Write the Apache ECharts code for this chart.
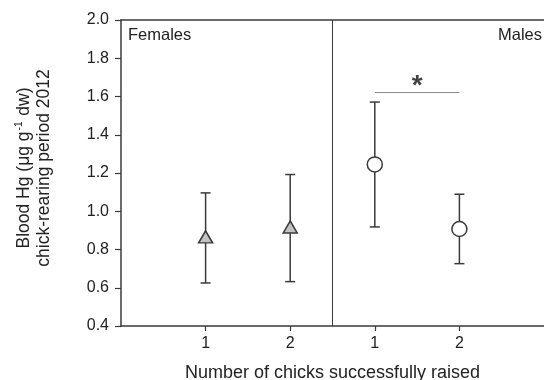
<!DOCTYPE html>
<html>
<head>
<meta charset="utf-8">
<script src="https://cdn.jsdelivr.net/npm/echarts@6/dist/echarts.min.js"></script>
<style>html,body{margin:0;padding:0;background:#fff}#c{width:544px;height:380px}</style>
</head>
<body>
<div id="c"></div>
<script>
// Data
var xPositions = [1, 2, 3, 4];
var tickLabels = ['1', '2', '1', '2'];
var groups = ['Females', 'Males'];
var femaleX = [1, 2];
var femaleMean = [0.866, 0.918];
var femaleLow = [0.625, 0.632];
var femaleHigh = [1.096, 1.192];
var maleX = [3, 4];
var maleMean = [1.245, 0.907];
var maleLow = [0.918, 0.726];
var maleHigh = [1.571, 1.089];
var dividerX = 2.5;
var sigFrom = 3, sigTo = 4, sigY = 1.62, sigLabel = '*';

var FONT = '"Liberation Sans", Arial, sans-serif';
var DARK = '#3a3a3a';

function errData(xs, lo, hi) {
  return xs.map(function (x, i) { return [x, lo[i], hi[i]]; });
}
function ptData(xs, m) {
  return xs.map(function (x, i) { return [x, m[i]]; });
}
function renderErr(params, api) {
  var x = api.value(0);
  var lo = api.coord([x, api.value(1)]);
  var hi = api.coord([x, api.value(2)]);
  var cap = 5;
  var st = { stroke: DARK, lineWidth: 1.5 };
  return {
    type: 'group',
    children: [
      { type: 'line', shape: { x1: lo[0], y1: lo[1], x2: hi[0], y2: hi[1] }, style: st },
      { type: 'line', shape: { x1: lo[0] - cap, y1: lo[1], x2: lo[0] + cap, y2: lo[1] }, style: st },
      { type: 'line', shape: { x1: hi[0] - cap, y1: hi[1], x2: hi[0] + cap, y2: hi[1] }, style: st }
    ]
  };
}

var chart = echarts.init(document.getElementById('c'));
chart.setOption({
  animation: false,
  grid: { left: 121, right: 0, top: 20, bottom: 54, containLabel: false, outerBoundsMode: 'none' },
  xAxis: [{
    type: 'value', min: 0, max: 5, interval: 1,
    axisLine: { show: true, lineStyle: { color: DARK, width: 1.5 } },
    axisTick: { show: true, customValues: xPositions, length: 5, lineStyle: { color: DARK, width: 1.2 } },
    axisLabel: {
      customValues: xPositions, margin: 10,
      formatter: function (v) { var i = xPositions.indexOf(v); return i >= 0 ? tickLabels[i] : ''; },
      color: '#222', fontSize: 16, fontFamily: FONT
    },
    splitLine: { show: false },
    name: 'Number of chicks successfully raised', nameLocation: 'middle', nameGap: 38,
    nameTextStyle: { color: '#222', fontSize: 18, fontFamily: FONT }
  }, {
    type: 'value', position: 'top', min: 0, max: 5,
    axisLine: { show: true, lineStyle: { color: DARK, width: 1.5 } },
    axisTick: { show: false }, axisLabel: { show: false }, splitLine: { show: false }
  }],
  yAxis: {
    type: 'value', min: 0.4, max: 2.0, interval: 0.2,
    axisLine: { show: true, lineStyle: { color: DARK, width: 1.5 } },
    axisTick: { show: true, length: 6, lineStyle: { color: DARK, width: 1.2 } },
    axisLabel: {
      margin: 12, color: '#222', fontSize: 16, fontFamily: FONT,
      formatter: function (v) { return v.toFixed(1); }
    },
    splitLine: { show: false }
  },
  graphic: [
    {
      type: 'text', x: 34, y: 168, rotation: Math.PI / 2,
      style: {
        text: '{a|Blood Hg (μg g}{s|-1}{a| dw)}\n{a|chick-rearing period 2012}',
        fill: '#222', fontFamily: FONT, align: 'center', verticalAlign: 'middle',
        rich: {
          a: { fontSize: 17.5, fontFamily: FONT, fill: '#222', lineHeight: 20 },
          s: { fontSize: 10, fontFamily: FONT, fill: '#222', lineHeight: 20, padding: [0, 1, 9, 1] }
        }
      }
    },
    { type: 'text', x: 128, y: 35, style: { text: groups[0], fontSize: 16.5, fontFamily: FONT, fill: '#222', align: 'left', verticalAlign: 'middle' } },
    { type: 'text', x: 542, y: 35, style: { text: groups[1], fontSize: 16.5, fontFamily: FONT, fill: '#222', align: 'right', verticalAlign: 'middle' } }
  ],
  series: [
    {
      type: 'line', data: [], markLine: {
        silent: true, symbol: 'none', label: { show: false },
        lineStyle: { color: DARK, width: 1, type: 'solid' },
        data: [{ xAxis: dividerX }]
      }
    },
    {
      type: 'line', data: [], markLine: {
        silent: true, symbol: 'none', label: { show: false },
        lineStyle: { color: '#8a8a8a', width: 1.2, type: 'solid' },
        data: [[{ coord: [sigFrom, sigY] }, { coord: [sigTo, sigY] }]]
      }
    },
    {
      type: 'scatter', symbol: 'circle', symbolSize: 1, silent: true,
      itemStyle: { color: 'rgba(0,0,0,0)' },
      data: [[(sigFrom + sigTo) / 2, sigY]],
      label: { show: true, formatter: sigLabel, position: 'top', distance: -8, fontSize: 28, fontWeight: 'bold', color: '#111', fontFamily: FONT }
    },
    { type: 'custom', renderItem: renderErr, data: errData(femaleX, femaleLow, femaleHigh), z: 2 },
    { type: 'custom', renderItem: renderErr, data: errData(maleX, maleLow, maleHigh), z: 2 },
    {
      type: 'scatter', symbol: 'triangle', symbolSize: [14, 12], z: 5,
      itemStyle: { color: '#c2c2c2', borderColor: DARK, borderWidth: 1.5, opacity: 1 },
      data: ptData(femaleX, femaleMean)
    },
    {
      type: 'scatter', symbol: 'circle', symbolSize: 15, z: 5,
      itemStyle: { color: '#ffffff', borderColor: DARK, borderWidth: 1.5, opacity: 1 },
      data: ptData(maleX, maleMean)
    }
  ]
});
</script>
</body>
</html>
